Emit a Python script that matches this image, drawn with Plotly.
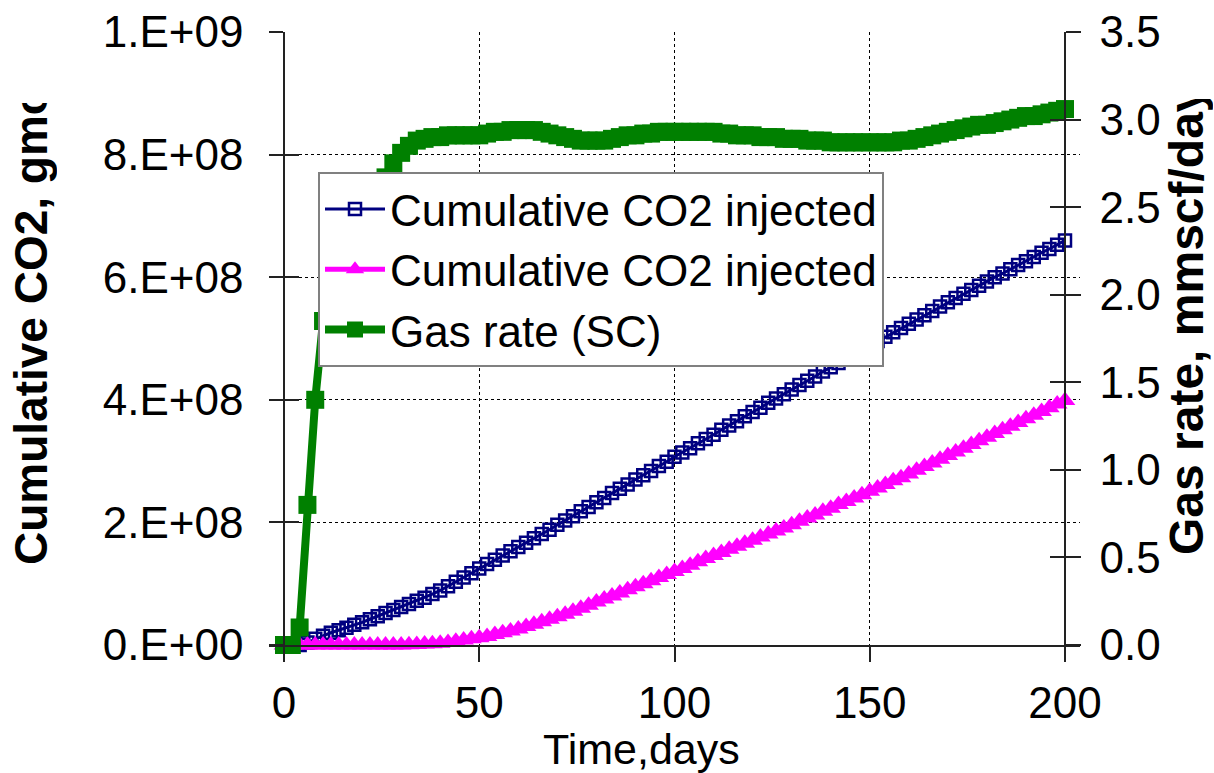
import plotly.graph_objects as go

W, H = 1214, 773

# ---------------- data ----------------
days = list(range(0, 201, 2))

cum_co2_blue = [  # x1e8 gmol
    0, 0, 0, 0.04, 0.10, 0.15, 0.20, 0.24, 0.28, 0.33,
    0.37, 0.42, 0.47, 0.52, 0.57, 0.62, 0.67, 0.72, 0.77, 0.83,
    0.89, 0.96, 1.03, 1.10, 1.17, 1.25, 1.32, 1.39, 1.46, 1.53,
    1.60, 1.67, 1.74, 1.81, 1.88, 1.96, 2.03, 2.10, 2.18, 2.25,
    2.33, 2.40, 2.48, 2.55, 2.62, 2.70, 2.77, 2.84, 2.92, 2.99,
    3.07, 3.14, 3.21, 3.29, 3.36, 3.43, 3.51, 3.58, 3.65, 3.73,
    3.80, 3.87, 3.95, 4.02, 4.09, 4.17, 4.24, 4.31, 4.38, 4.46,
    4.53, 4.60, 4.67, 4.75, 4.82, 4.89, 4.96, 5.03, 5.10, 5.17,
    5.24, 5.31, 5.38, 5.45, 5.52, 5.59, 5.66, 5.73, 5.79, 5.86,
    5.93, 6.00, 6.06, 6.13, 6.20, 6.26, 6.33, 6.40, 6.46, 6.53,
    6.60,
]

cum_co2_pink = [  # x1e8 gmol
    0, 0, 0, 0, 0, 0, 0, 0, 0, 0,
    0, 0, 0, 0, 0, 0, 0.005, 0.01, 0.015, 0.02,
    0.03, 0.04, 0.06, 0.08, 0.10, 0.12, 0.14, 0.17, 0.20, 0.23,
    0.26, 0.30, 0.34, 0.38, 0.42, 0.46, 0.50, 0.55, 0.60, 0.65,
    0.70, 0.75, 0.80, 0.85, 0.90, 0.95, 1.00, 1.05, 1.10, 1.15,
    1.20, 1.25, 1.30, 1.36, 1.41, 1.46, 1.51, 1.56, 1.61, 1.66,
    1.71, 1.76, 1.81, 1.86, 1.91, 1.96, 2.02, 2.07, 2.12, 2.18,
    2.23, 2.29, 2.34, 2.40, 2.45, 2.51, 2.56, 2.62, 2.68, 2.73,
    2.79, 2.85, 2.91, 2.97, 3.03, 3.09, 3.15, 3.21, 3.27, 3.33,
    3.39, 3.45, 3.51, 3.57, 3.63, 3.69, 3.75, 3.81, 3.87, 3.93,
    3.99,
]

gas_rate = [  # mmscf/day
    0, 0, 0.10, 0.80, 1.40, 1.85, 2.10, 2.30, 2.42, 2.50,
    2.56, 2.60, 2.63, 2.67, 2.75, 2.81, 2.85, 2.88, 2.89, 2.90,
    2.90, 2.91, 2.91, 2.91, 2.91, 2.91, 2.92, 2.93, 2.93, 2.94,
    2.94, 2.94, 2.94, 2.93, 2.92, 2.91, 2.90, 2.89, 2.88, 2.88,
    2.88, 2.88, 2.89, 2.90, 2.91, 2.91, 2.92, 2.92, 2.93, 2.93,
    2.93, 2.93, 2.93, 2.93, 2.93, 2.93, 2.92, 2.92, 2.91, 2.91,
    2.91, 2.90, 2.90, 2.90, 2.89, 2.89, 2.89, 2.88, 2.88, 2.88,
    2.87, 2.87, 2.87, 2.87, 2.87, 2.87, 2.87, 2.87, 2.87, 2.88,
    2.88, 2.89, 2.90, 2.91, 2.92, 2.93, 2.94, 2.95, 2.96, 2.97,
    2.97, 2.98, 2.99, 3.00, 3.01, 3.02, 3.02, 3.03, 3.04, 3.05,
    3.06,
]

x_ticks = [0, 50, 100, 150, 200]
left_ticks = [0, 2e8, 4e8, 6e8, 8e8, 1e9]
left_tick_text = ["0.E+00", "2.E+08", "4.E+08", "6.E+08", "8.E+08", "1.E+09"]
grid_ticks = [2e8, 4e8, 6e8, 8e8]
right_ticks = [0, 0.5, 1.0, 1.5, 2.0, 2.5, 3.0, 3.5]

series_names = ["Cumulative CO2 injected", "Cumulative CO2 injected", "Gas rate (SC)"]

# ---------------- layout helpers ----------------
def px(x):
    return x / W

def py(y):
    return 1 - y / H

X0, X200 = 284, 1065
Y0, YTOP = 645, 32
per_day = (X200 - X0) / 200.0
pad_days = 15 / per_day

FONT = "Liberation Sans, Arial, sans-serif"
AXC = "#222222"

fig = go.Figure()

fig.add_trace(go.Scatter(
    x=days, y=[v * 1e8 for v in cum_co2_blue], name=series_names[0],
    mode="lines+markers", yaxis="y",
    line=dict(color="#000080", width=3),
    marker=dict(symbol="square-open", size=12, color="#000080", line=dict(width=2.5, color="#000080")),
    cliponaxis=False,
))
fig.add_trace(go.Scatter(
    x=days, y=[v * 1e8 for v in cum_co2_pink], name=series_names[1],
    mode="lines+markers", yaxis="y",
    line=dict(color="#FF00FF", width=5),
    marker=dict(symbol="triangle-up", size=18, color="#FF00FF"),
    cliponaxis=False,
))
fig.add_trace(go.Scatter(
    x=days, y=gas_rate, name=series_names[2],
    mode="lines+markers", yaxis="y2",
    line=dict(color="#008000", width=8),
    marker=dict(symbol="square", size=18, color="#008000"),
    cliponaxis=False,
))

ydom = [py(Y0), py(YTOP)]
tickfont = dict(family=FONT, size=44, color="black")

fig.update_layout(
    width=W, height=H,
    margin=dict(l=0, r=0, t=0, b=0, autoexpand=False),
    paper_bgcolor="white", plot_bgcolor="white",
    showlegend=True,
    xaxis=dict(
        domain=[px(X0 - 15), px(X200 + 15)],
        range=[-pad_days, 200 + pad_days], automargin=False,
        tickvals=x_ticks, ticks="outside", ticklen=15, tickwidth=1.5, tickcolor=AXC,
        ticklabelstandoff=3,
        showline=True, linecolor=AXC, linewidth=1.5,
        showgrid=True, gridcolor="#000000", gridwidth=1, griddash="dot",
        zeroline=False, tickfont=tickfont, anchor="y",
    ),
    yaxis=dict(
        domain=ydom, range=[0, 1e9], anchor="free", position=px(X0), automargin=False,
        tickvals=left_ticks, ticktext=left_tick_text,
        ticks="outside", ticklen=14, tickwidth=1.5, tickcolor=AXC,
        ticklabelstandoff=17,
        showline=True, linecolor=AXC, linewidth=1.5,
        showgrid=False, zeroline=False, tickfont=tickfont,
    ),
    yaxis2=dict(
        domain=ydom, range=[0, 3.5], anchor="free", position=px(X200), automargin=False,
        overlaying="y", side="right",
        tickvals=right_ticks, tickformat=".1f",
        ticks="outside", ticklen=15, tickwidth=1.5, tickcolor=AXC,
        ticklabelstandoff=10,
        showline=True, linecolor=AXC, linewidth=1.5,
        showgrid=False, zeroline=False, tickfont=tickfont,
    ),
    yaxis3=dict(
        domain=ydom, range=[0, 1e9], anchor="free", position=px(X0), automargin=False,
        overlaying="y", tickvals=grid_ticks, ticks="", showticklabels=False,
        showline=False, zeroline=False,
        showgrid=True, gridcolor="#000000", gridwidth=1, griddash="dot",
    ),
    yaxis4=dict(
        domain=ydom, range=[0, 1e9], anchor="free", position=px(X0), automargin=False,
        overlaying="y", tickvals=left_ticks, ticks="inside", ticklen=14,
        tickwidth=1.5, tickcolor=AXC, showticklabels=False,
        showline=False, zeroline=False, showgrid=False,
    ),
    yaxis5=dict(
        domain=ydom, range=[0, 3.5], anchor="free", position=px(X200), automargin=False,
        overlaying="y", side="right", tickvals=right_ticks, ticks="inside", ticklen=15,
        tickwidth=1.5, tickcolor=AXC, showticklabels=False,
        showline=False, zeroline=False, showgrid=False,
    ),
    legend=dict(
        x=px(318), y=py(172), xanchor="left", yanchor="top",
        bgcolor="white", bordercolor="#808080", borderwidth=2,
        font=dict(family=FONT, size=44, color="black"),
        itemwidth=60, tracegroupgap=0,
    ),
    annotations=[
        dict(text="Time,days", x=px(642), y=py(749), xref="paper", yref="paper",
             xanchor="center", yanchor="middle", showarrow=False,
             font=dict(family=FONT, size=43, color="black")),
        dict(text="<b>Cumulative CO2, gmol</b>", x=px(31), y=py(565 - 231), xref="paper", yref="paper",
             xanchor="center", yanchor="middle", showarrow=False, textangle=-90,
             width=462, align="left",
             font=dict(family=FONT, size=46, color="black")),
        dict(text="<b>Gas rate, mmscf/day</b>", x=px(1186), y=py(555 - 228), xref="paper", yref="paper",
             xanchor="center", yanchor="middle", showarrow=False, textangle=-90,
             width=456, align="left",
             font=dict(family=FONT, size=48, color="black")),
    ],
)

# helper axes need a (empty) trace to render
for ax in ["y3", "y4", "y5"]:
    fig.add_trace(go.Scatter(x=[None], y=[None], yaxis=ax, showlegend=False, hoverinfo="skip"))

fig.write_html("out.html")
